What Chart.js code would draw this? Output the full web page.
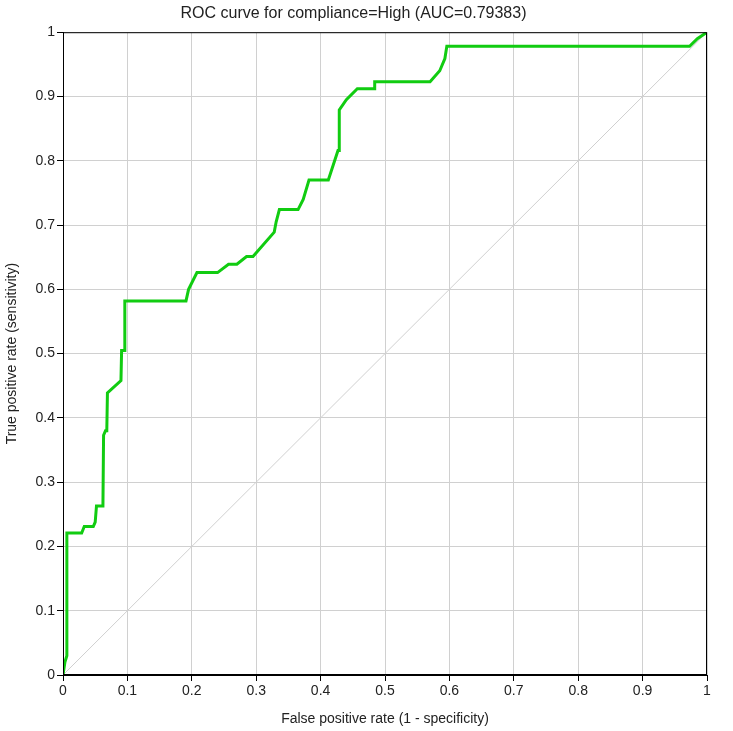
<!DOCTYPE html>
<html>
<head>
<meta charset="utf-8">
<script src="https://cdn.jsdelivr.net/npm/chart.js@4"></script>
<style>
  html, body { margin: 0; padding: 0; background: #fff; }
  #wrap { width: 733px; height: 731px; }
</style>
</head>
<body>
<div id="wrap"><canvas id="rocChart" width="733" height="731"></canvas></div>
<script>
// ROC curve points
const fpr = [0, 0.003, 0.006, 0.006, 0.029, 0.033, 0.047, 0.050, 0.051, 0.052, 0.062, 0.063, 0.066, 0.068,
  0.069, 0.090, 0.091, 0.096, 0.096, 0.191, 0.195, 0.208, 0.240, 0.257, 0.270, 0.285, 0.295, 0.328,
  0.331, 0.336, 0.365, 0.373, 0.382, 0.412, 0.427, 0.429, 0.429, 0.440, 0.457, 0.484, 0.484, 0.570,
  0.585, 0.593, 0.596, 0.973, 0.985, 1];
const tpr = [0, 0.020, 0.030, 0.221, 0.221, 0.231, 0.231, 0.238, 0.238, 0.263, 0.263, 0.373, 0.380, 0.380,
  0.439, 0.458, 0.505, 0.505, 0.582, 0.582, 0.600, 0.626, 0.626, 0.639, 0.639, 0.651, 0.651, 0.689,
  0.705, 0.724, 0.724, 0.740, 0.770, 0.770, 0.816, 0.816, 0.879, 0.895, 0.912, 0.912, 0.923, 0.923,
  0.940, 0.959, 0.978, 0.978, 0.990, 1];

// chance line
const diagX = [0, 1];
const diagY = [0, 1];

const tickValues = [0, 0.1, 0.2, 0.3, 0.4, 0.5, 0.6, 0.7, 0.8, 0.9, 1];

const titleText = "ROC curve for compliance=High (AUC=0.79383)";
const xLabel = "False positive rate (1 - specificity)";
const yLabel = "True positive rate (sensitivity)";

const rocPoints = fpr.map((v, i) => ({ x: v, y: tpr[i] }));
const diagPoints = diagX.map((v, i) => ({ x: v, y: diagY[i] }));

const tickFont = { family: "'Liberation Sans Narrow', 'Liberation Sans', Arial, sans-serif", size: 14 };
const labelFont = { family: "'Liberation Sans', Arial, sans-serif", size: 14 };

// frame around the plot area (top and right edges)
const frame = {
  id: "frame",
  afterDatasetsDraw(chart) {
    const a = chart.chartArea;
    const ctx = chart.ctx;
    ctx.save();
    ctx.strokeStyle = "#000";
    ctx.lineWidth = 1;
    ctx.strokeRect(a.left + 0.5, a.top + 0.5, a.right - a.left - 1, a.bottom - a.top - 1);
    ctx.restore();
  },
};

function fixTicks(scale) {
  scale.ticks = tickValues.map((v) => ({ value: v }));
}

new Chart(document.getElementById("rocChart"), {
  type: "scatter",
  data: {
    datasets: [
      {
        data: diagPoints,
        showLine: true,
        borderColor: "#d0d0d0",
        borderWidth: 1,
        pointRadius: 0,
        order: 2,
      },
      {
        data: rocPoints,
        showLine: true,
        borderColor: "#11cc11",
        borderWidth: 3,
        pointRadius: 0,
        order: 1,
      },
    ],
  },
  options: {
    responsive: false,
    animation: false,
    layout: { padding: { top: 0, right: 26, bottom: 3, left: 0 } },
    plugins: {
      legend: { display: false },
      tooltip: { enabled: false },
      title: {
        display: true,
        text: titleText,
        color: "#222",
        font: { family: "'Liberation Sans', Arial, sans-serif", size: 16, weight: "normal" },
        padding: { top: 4, bottom: 9 },
      },
    },
    scales: {
      x: {
        type: "linear",
        min: 0,
        max: 1,
        afterBuildTicks: fixTicks,
        afterFit: (scale) => { scale.height = 53; },
        ticks: {
          color: "#222",
          font: tickFont,
          padding: 2,
          maxRotation: 0,
          callback: (v) => String(v),
        },
        grid: { color: "#d0d0d0", tickColor: "#000", tickLength: 6, lineWidth: 1 },
        border: { display: true, color: "#000", width: 1 },
        title: { display: true, text: xLabel, color: "#222", font: labelFont, padding: { top: 1, bottom: 0 } },
      },
      y: {
        type: "linear",
        min: 0,
        max: 1,
        afterBuildTicks: fixTicks,
        afterFit: (scale) => { scale.width = 63; },
        ticks: {
          color: "#222",
          font: tickFont,
          padding: 2,
          callback: (v) => String(v),
        },
        grid: { color: "#d0d0d0", tickColor: "#000", tickLength: 6, lineWidth: 1 },
        border: { display: true, color: "#000", width: 1 },
        title: { display: true, text: yLabel, color: "#222", font: labelFont, padding: { top: 4, bottom: 4 } },
      },
    },
  },
  plugins: [frame],
});
</script>
</body>
</html>
